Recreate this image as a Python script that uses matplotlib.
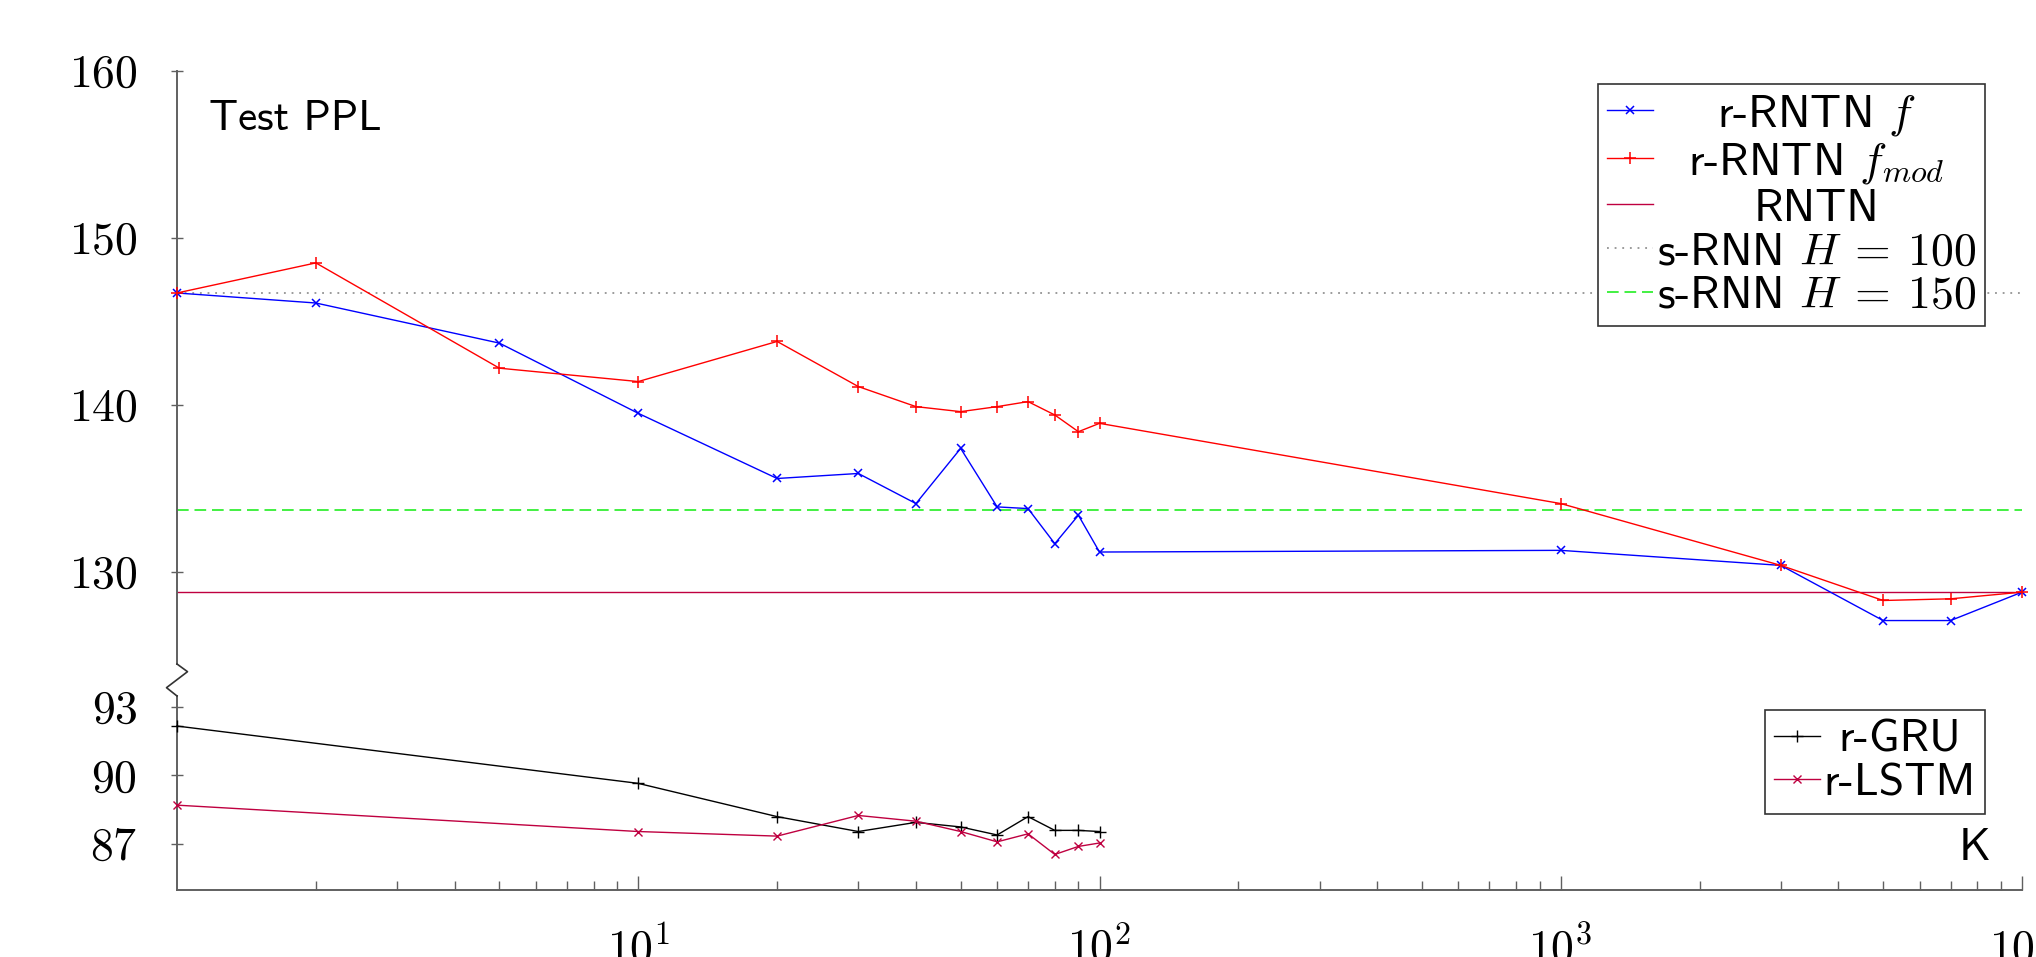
import matplotlib
matplotlib.use("Agg")
import matplotlib.pyplot as plt
from matplotlib.lines import Line2D
import numpy as np

plt.rcParams["font.family"] = "cmss10"
plt.rcParams["mathtext.fontset"] = "cm"
plt.rcParams["axes.unicode_minus"] = False
plt.rcParams["axes.formatter.use_mathtext"] = True

# -----------------------------
# Data
# -----------------------------
K_TOP = [1, 2, 5, 10, 20, 30, 40, 50, 60, 70, 80, 90, 100, 1000, 3000, 5000, 7000, 10000]
RRNTN_F = [146.7, 146.1, 143.7, 139.5, 135.6, 135.9, 134.1, 137.4, 133.9, 133.8,
           131.7, 133.4, 131.2, 131.3, 130.4, 127.1, 127.1, 128.8]
RRNTN_FMOD = [146.7, 148.5, 142.2, 141.4, 143.8, 141.1, 139.9, 139.6, 139.9, 140.2,
              139.4, 138.4, 138.9, 134.1, 130.4, 128.3, 128.4, 128.8]
RNTN = 128.8
SRNN_H100 = 146.7
SRNN_H150 = 133.7

K_BOTTOM = [1, 10, 20, 30, 40, 50, 60, 70, 80, 90, 100]
RGRU = [92.15, 89.65, 88.2, 87.55, 87.95, 87.75, 87.4, 88.2, 87.6, 87.6, 87.55]
RLSTM = [88.7, 87.55, 87.35, 88.25, 88.0, 87.55, 87.1, 87.45, 86.55, 86.9, 87.05]

TOP_YTICKS = [130, 140, 150, 160]
BOTTOM_YTICKS = [87, 90, 93]
XTICKS = [10, 100, 1000, 10000]
XTICK_LABELS = [r"$10^{1}$", r"$10^{2}$", r"$10^{3}$", r"$10^{4}$"]

FS = 33
SPINE = "#606060"
PURPLE = "#bf0040"

W, H = 2036, 957
fig = plt.figure(figsize=(W / 100, H / 100), dpi=100)

left, right = 177 / W, 2022 / W
ax_top = fig.add_axes([left, 1 - 664 / H, right - left, (664 - 70.7) / H])
ax_bot = fig.add_axes([left, 1 - 890 / H, right - left, (890 - 696) / H])


def style_axis(ax):
    ax.set_xscale("log")
    ax.set_xlim(1, 1e4)
    for s in ["top", "right"]:
        ax.spines[s].set_visible(False)
    for s in ["left", "bottom"]:
        ax.spines[s].set_color(SPINE)
        ax.spines[s].set_linewidth(1.4)
    ax.tick_params(axis="y", which="major", direction="inout", length=9, width=1,
                   color=SPINE, pad=24, labelsize=FS)
    ax.tick_params(axis="y", which="minor", left=False)


style_axis(ax_top)
style_axis(ax_bot)

# top panel
ax_top.spines["bottom"].set_visible(False)
ax_top.tick_params(axis="x", which="both", bottom=False, labelbottom=False)
ax_top.set_ylim(124.5, 160)
ax_top.set_yticks(TOP_YTICKS)
ax_top.set_yticklabels([f"${v}$" for v in TOP_YTICKS])

ax_top.plot(K_TOP, RRNTN_F, color="#0000ff", lw=1.0, marker="x", ms=6, mew=1.1,
            clip_on=False, label=r"r-RNTN $f$", zorder=4)
ax_top.plot(K_TOP, RRNTN_FMOD, color="#ff0000", lw=1.0, marker="+", ms=8, mew=1.1,
            clip_on=False, label=r"r-RNTN $f_{mod}$", zorder=4)
ax_top.axhline(RNTN, color=PURPLE, lw=1.0, label="RNTN")
ax_top.axhline(SRNN_H100, color="#808080", lw=1.1, linestyle=(0, (1.2, 3.8)),
               label=r"s-RNN $H\:=\:100$")
ax_top.axhline(SRNN_H150, color="#22ee22", lw=1.2, linestyle=(0, (7, 3.5)),
               label=r"s-RNN $H\:=\:150$")

ax_top.text(0.0173, 0.95, "Test PPL", transform=ax_top.transAxes, fontsize=31,
            ha="left", va="top")

# bottom panel
ax_bot.set_ylim(85, 93.46)
ax_bot.set_yticks(BOTTOM_YTICKS)
ax_bot.set_yticklabels([f"${v}$" for v in BOTTOM_YTICKS])
ax_bot.set_xticks(XTICKS)
ax_bot.set_xticklabels(XTICK_LABELS)
ax_bot.tick_params(axis="x", which="major", direction="in", length=10, width=1,
                   color=SPINE, pad=26, labelsize=FS)
ax_bot.tick_params(axis="x", which="minor", direction="in", length=6.5, width=1,
                   color=SPINE)

ax_bot.plot(K_BOTTOM, RGRU, color="black", lw=1.0, marker="+", ms=8, mew=1.0,
            clip_on=False, label="r-GRU", zorder=4)
ax_bot.plot(K_BOTTOM, RLSTM, color=PURPLE, lw=1.0, marker="x", ms=6, mew=1.0,
            clip_on=False, label="r-LSTM", zorder=4)

ax_bot.text(0.9827, 0.155, "K", transform=ax_bot.transAxes, fontsize=FS,
            ha="right", va="baseline")


def centered_legend(ax, anchor):
    leg = ax.legend(loc="upper right", bbox_to_anchor=anchor, borderaxespad=0,
                    fontsize=FS, handlelength=1.0, handletextpad=0.08,
                    labelspacing=0.06, borderpad=0.2, fancybox=False,
                    framealpha=1, edgecolor="#333333")
    leg.get_frame().set_linewidth(1.2)
    return leg


leg_top = centered_legend(ax_top, (0.980, 0.978))
leg_bot = centered_legend(ax_bot, (0.980, 0.926))

# center legend labels like the original
fig.canvas.draw()
renderer = fig.canvas.get_renderer()
for leg in (leg_top, leg_bot):
    texts = leg.get_texts()
    widths = [t.get_window_extent(renderer).width for t in texts]
    wmax = max(widths)
    for t, w in zip(texts, widths):
        t.set_position(((wmax - w) / 2, 0))

# axis break zigzag on the left spine
p_top = ax_top.get_position()
p_bot = ax_bot.get_position()
y0, y1 = p_top.y0, p_bot.y1
gap = y0 - y1
dx = 10.5 / W
zx = [left, left + dx, left - dx, left]
zy = [y0, y0 - 0.24 * gap, y0 - 0.74 * gap, y1]
fig.add_artist(Line2D(zx, zy, transform=fig.transFigure, color="#333333", lw=1.2))

fig.savefig("out.png", dpi=100)
